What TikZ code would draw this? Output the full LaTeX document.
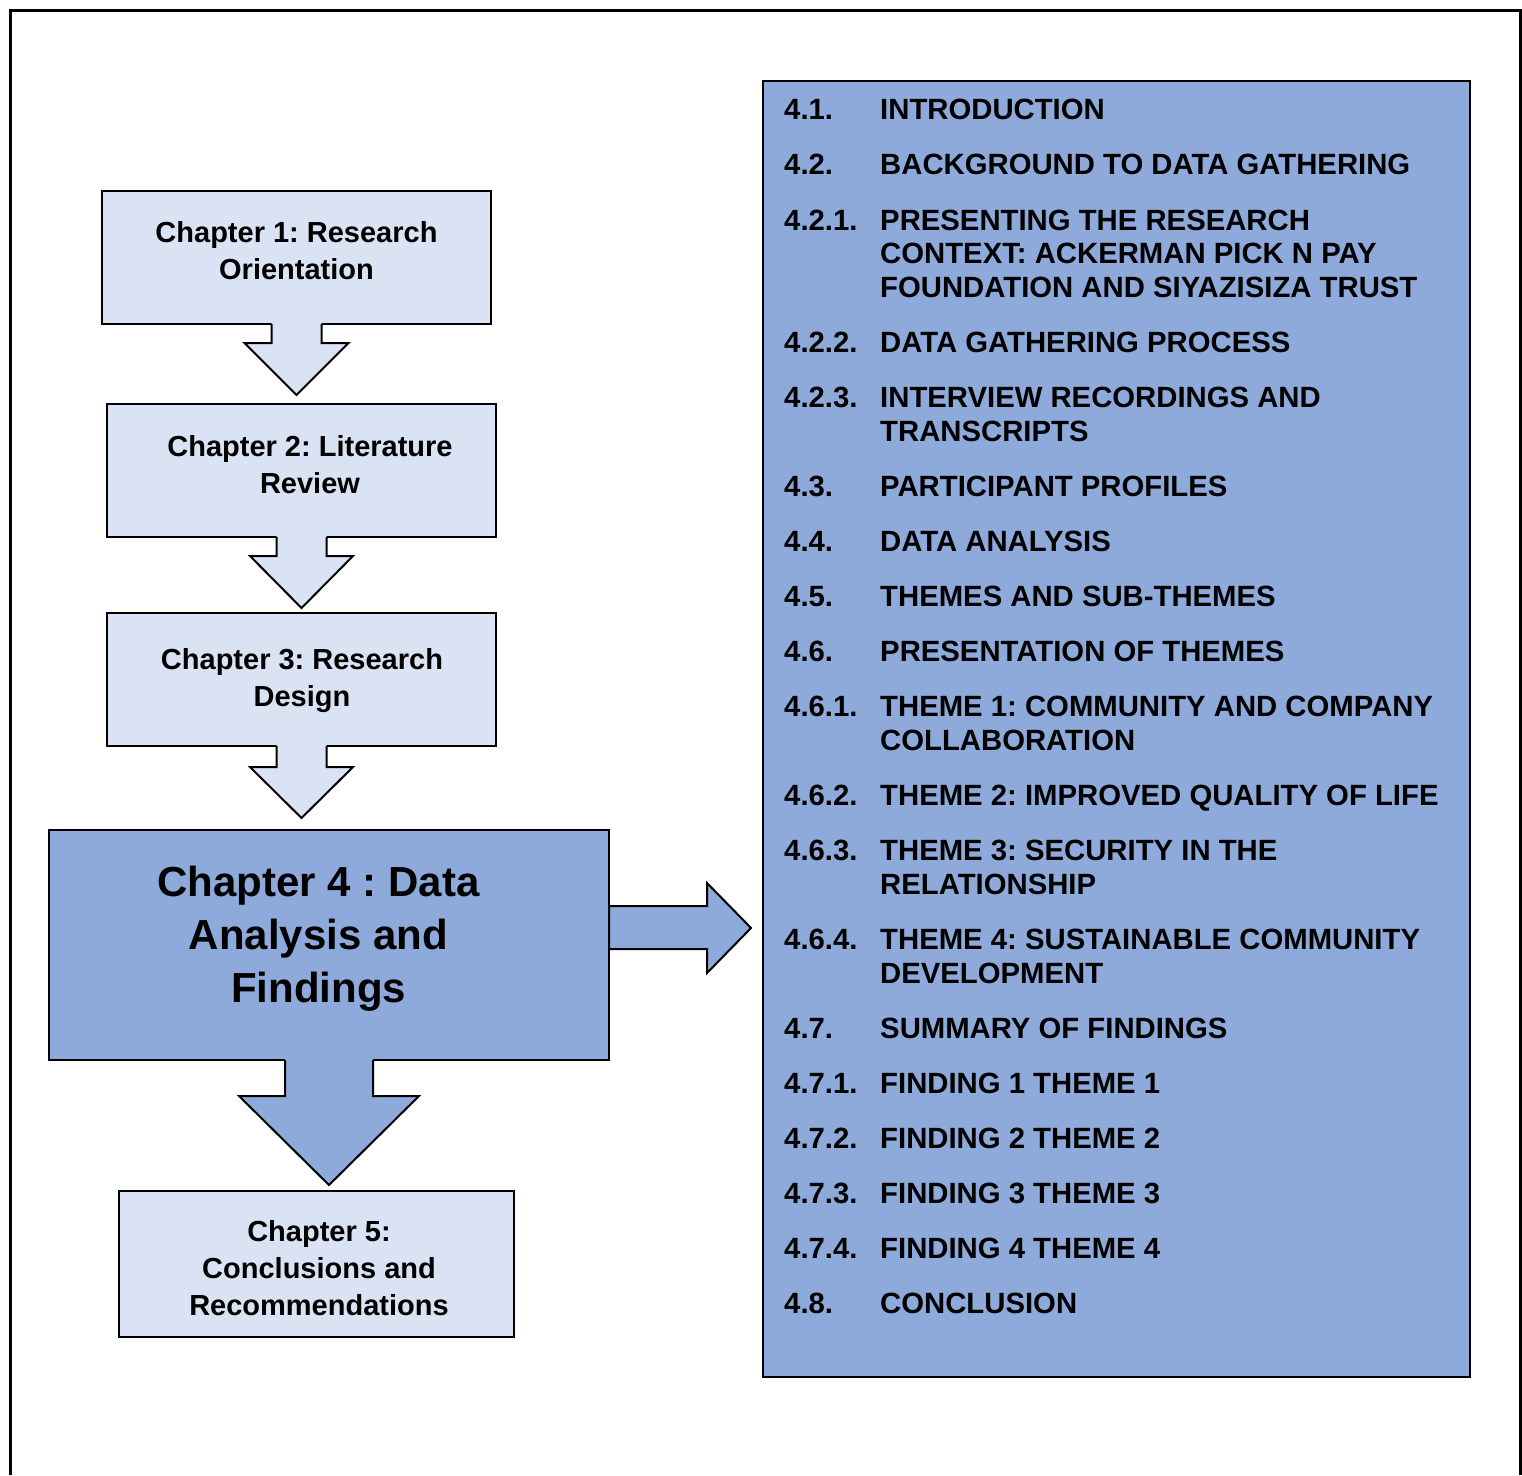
\documentclass[tikz,border=0pt]{standalone}
\usepackage{fontspec}
\setmainfont{Liberation Sans}
\usetikzlibrary{calc}
\definecolor{lightbox}{RGB}{218,227,243}
\definecolor{darkbox}{RGB}{142,170,219}
\frenchspacing
\newcommand\blockdown[6]{%
  \fill[#6] ($(#1.south)+(-#2,-2)$) -- ($(#1.south)+(-#2,#4)$) -- ($(#1.south)+(-#3,#4)$)
     -- ($(#1.south)+(0,#4+#5)$) -- ($(#1.south)+(#3,#4)$) -- ($(#1.south)+(#2,#4)$)
     -- ($(#1.south)+(#2,-2)$) -- cycle;
  \draw[line width=2pt,line join=miter] ($(#1.south)+(-#2,0)$) -- ($(#1.south)+(-#2,#4)$) -- ($(#1.south)+(-#3,#4)$)
     -- ($(#1.south)+(0,#4+#5)$) -- ($(#1.south)+(#3,#4)$) -- ($(#1.south)+(#2,#4)$)
     -- ($(#1.south)+(#2,0)$);
}
\begin{document}
\begin{tikzpicture}[x=1pt,y=-1pt,
  box/.style={draw=black,line width=2pt,inner sep=0pt,outer sep=0pt,anchor=north west},
  lbl/.style={font=\fontsize{29}{34}\bfseries\selectfont\frenchspacing,anchor=base,inner sep=0pt},
  biglbl/.style={font=\fontsize{42}{50}\bfseries\selectfont\frenchspacing,anchor=base,inner sep=0pt},
  lst/.style={font=\fontsize{29.3}{34}\bfseries\selectfont\frenchspacing,anchor=base west,inner sep=0pt}]
\useasboundingbox (0,0) rectangle (1522,1475);
\fill[white] (0,0) rectangle (1522,1475);
% outer frame
\draw[line width=3pt] (10,1475) -- (10,10) -- (1520,10) -- (1520,1475);

% boxes
\node[box,fill=lightbox,minimum width=389pt,minimum height=133pt] (b1) at (102,191) {};
\node[box,fill=lightbox,minimum width=389pt,minimum height=133pt] (b2) at (107,404) {};
\node[box,fill=lightbox,minimum width=389pt,minimum height=133pt] (b3) at (107,613) {};
\node[box,fill=darkbox,minimum width=560pt,minimum height=230pt] (b4) at (49,830) {};
\node[box,fill=lightbox,minimum width=395pt,minimum height=146pt] (b5) at (119,1191) {};
\node[box,fill=darkbox,minimum width=707pt,minimum height=1296pt] (panel) at (763,81) {};

% block arrows
\blockdown{b1}{25}{52}{19}{52}{lightbox}
\blockdown{b2}{25}{51.5}{19}{52}{lightbox}
\blockdown{b3}{25}{51.5}{21}{51}{lightbox}
\blockdown{b4}{44}{90}{36}{89}{darkbox}
\draw[line width=2pt,line join=miter,fill=darkbox]
  ($(b4.north east)+(0,76)$) -- ($(b4.north east)+(98,76)$) -- ($(b4.north east)+(98,53)$)
  -- ($(b4.north east)+(142,98)$) -- ($(b4.north east)+(98,143)$) -- ($(b4.north east)+(98,119)$)
  -- ($(b4.north east)+(0,119)$) -- cycle;

% box labels
\node[lbl] (t1a) at (296.5,242.5) {Chapter 1: Research};
\node[lbl] (t1b) at (296.5,279) {Orientation};
\node[lbl] (t2a) at (310,456.5) {Chapter 2: Literature};
\node[lbl] (t2b) at (310,493) {Review};
\node[lbl] (t3a) at (302,669.5) {Chapter 3: Research};
\node[lbl] (t3b) at (302,706) {Design};
\node[biglbl] (t4a) at (318.5,896) {Chapter 4 : Data};
\node[biglbl] (t4b) at (318.5,949) {Analysis and};
\node[biglbl] (t4c) at (318.5,1002) {Findings};
\node[lbl] (t5a) at (319,1241.5) {Chapter 5:};
\node[lbl] (t5b) at (319,1278) {Conclusions and};
\node[lbl] (t5c) at (319,1315) {Recommendations};

% list
\node[lst] (n1) at (784,119) {4.1.};
\node[lst] (l1) at (880,119) {INTRODUCTION};
\node[lst] (n2) at (784,174) {4.2.};
\node[lst] (l2) at (880,174) {BACKGROUND TO DATA GATHERING};
\node[lst] (n3) at (784,230) {4.2.1.};
\node[lst] (l3a) at (880,230) {PRESENTING THE RESEARCH};
\node[lst] (l3b) at (880,263.5) {CONTEXT: ACKERMAN PICK N PAY};
\node[lst] (l3c) at (880,297) {FOUNDATION AND SIYAZISIZA TRUST};
\node[lst] (n4) at (784,352) {4.2.2.};
\node[lst] (l4) at (880,352) {DATA GATHERING PROCESS};
\node[lst] (n5) at (784,407) {4.2.3.};
\node[lst] (l5a) at (880,407) {INTERVIEW RECORDINGS AND};
\node[lst] (l5b) at (880,441) {TRANSCRIPTS};
\node[lst] (n6) at (784,496) {4.3.};
\node[lst] (l6) at (880,496) {PARTICIPANT PROFILES};
\node[lst] (n7) at (784,551) {4.4.};
\node[lst] (l7) at (880,551) {DATA ANALYSIS};
\node[lst] (n8) at (784,606) {4.5.};
\node[lst] (l8) at (880,606) {THEMES AND SUB-THEMES};
\node[lst] (n9) at (784,661) {4.6.};
\node[lst] (l9) at (880,661) {PRESENTATION OF THEMES};
\node[lst] (n10) at (784,716) {4.6.1.};
\node[lst] (l10a) at (880,716) {THEME 1: COMMUNITY AND COMPANY};
\node[lst] (l10b) at (880,750) {COLLABORATION};
\node[lst] (n11) at (784,805) {4.6.2.};
\node[lst] (l11) at (880,805) {THEME 2: IMPROVED QUALITY OF LIFE};
\node[lst] (n12) at (784,860) {4.6.3.};
\node[lst] (l12a) at (880,860) {THEME 3: SECURITY IN THE};
\node[lst] (l12b) at (880,894) {RELATIONSHIP};
\node[lst] (n13) at (784,949) {4.6.4.};
\node[lst] (l13a) at (880,949) {THEME 4: SUSTAINABLE COMMUNITY};
\node[lst] (l13b) at (880,983) {DEVELOPMENT};
\node[lst] (n14) at (784,1038) {4.7.};
\node[lst] (l14) at (880,1038) {SUMMARY OF FINDINGS};
\node[lst] (n15) at (784,1093) {4.7.1.};
\node[lst] (l15) at (880,1093) {FINDING 1 THEME 1};
\node[lst] (n16) at (784,1148) {4.7.2.};
\node[lst] (l16) at (880,1148) {FINDING 2 THEME 2};
\node[lst] (n17) at (784,1203) {4.7.3.};
\node[lst] (l17) at (880,1203) {FINDING 3 THEME 3};
\node[lst] (n18) at (784,1258) {4.7.4.};
\node[lst] (l18) at (880,1258) {FINDING 4 THEME 4};
\node[lst] (n19) at (784,1313) {4.8.};
\node[lst] (l19) at (880,1313) {CONCLUSION};
\end{tikzpicture}
\end{document}
